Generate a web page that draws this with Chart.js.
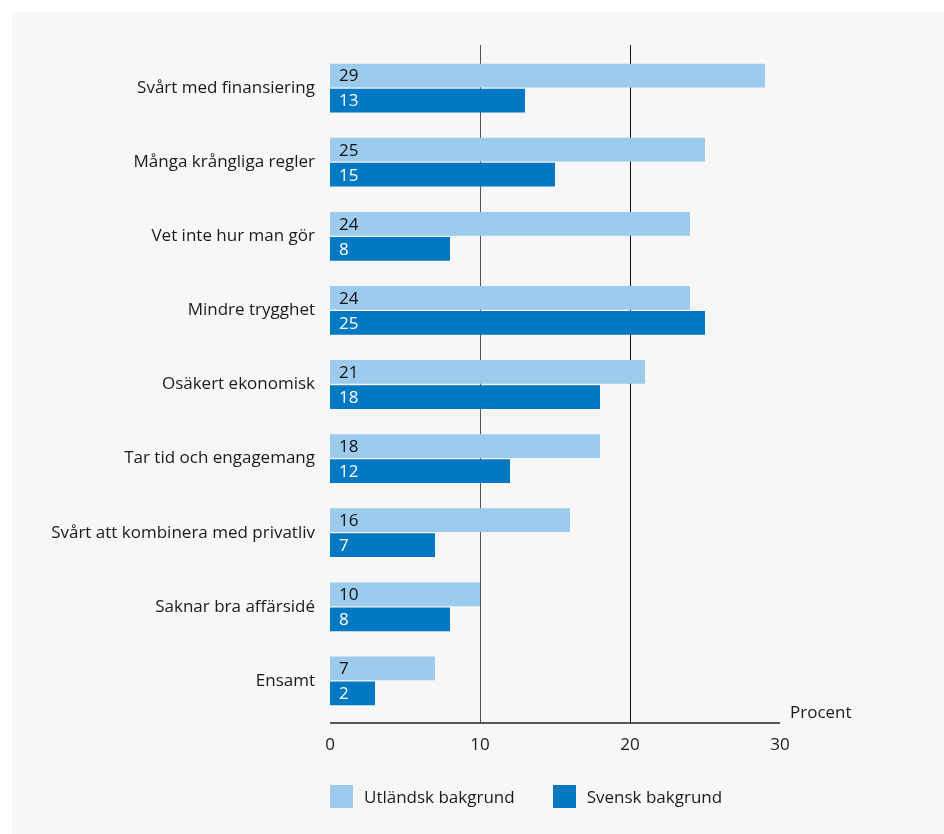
<!DOCTYPE html>
<html lang="sv">
<head>
<meta charset="utf-8">
<script src="https://cdn.jsdelivr.net/npm/chart.js@4"></script>
<style>
  html, body { margin: 0; padding: 0; background: #fff; }
  #panel { position: absolute; left: 12px; top: 12px; width: 932px; height: 822px; background: #f7f7f7; }
  #wrap { position: absolute; left: 0; top: 0; width: 944px; height: 834px; }
  #legend { position: absolute; left: 330px; top: 785px; font: 17px "Open Sans", sans-serif; color: #1a1a1a; display: flex; }
  .item { display: flex; align-items: center; margin-right: 38px; }
  .sw { width: 23px; height: 23px; margin-right: 11px; }
</style>
</head>
<body>
<div id="panel"></div>
<div id="wrap"><canvas id="chart" width="944" height="834"></canvas></div>
<div id="legend">
  <div class="item"><span class="sw" style="background:#9dcbed"></span>Utländsk bakgrund</div>
  <div class="item"><span class="sw" style="background:#0079c2"></span>Svensk bakgrund</div>
</div>
<script>
const categories = [
  "Svårt med finansiering",
  "Många krångliga regler",
  "Vet inte hur man gör",
  "Mindre trygghet",
  "Osäkert ekonomisk",
  "Tar tid och engagemang",
  "Svårt att kombinera med privatliv",
  "Saknar bra affärsidé",
  "Ensamt"
];
// bar lengths
const utlandsk = [29, 25, 24, 24, 21, 18, 16, 10, 7];
const svensk = [13, 15, 8, 25, 18, 12, 7, 8, 3];
// numbers printed in the bars (the last dark bar is drawn at 3 but says 2)
const utlandskText = ["29", "25", "24", "24", "21", "18", "16", "10", "7"];
const svenskText = ["13", "15", "8", "25", "18", "12", "7", "8", "2"];
const xTicks = [0, 10, 20, 30];

const FONT = "'Open Sans', sans-serif";
const barTexts = [utlandskText, svenskText];

// bar values drawn inside each bar at its left end
const barLabels = {
  id: "barLabels",
  afterDatasetsDraw(chart) {
    const ctx = chart.ctx;
    ctx.save();
    ctx.font = "17px " + FONT;
    ctx.textBaseline = "middle";
    chart.data.datasets.forEach((ds, i) => {
      const meta = chart.getDatasetMeta(i);
      meta.data.forEach((bar, j) => {
        ctx.fillStyle = i === 0 ? "#111" : "#fff";
        ctx.fillText(barTexts[i][j], bar.base + 9, bar.y + 1);
      });
    });
    ctx.restore();
  }
};

// vertical lines at 10 and 20, the axis line and the unit text
const axisLines = {
  id: "axisLines",
  beforeDatasetsDraw(chart) {
    const ctx = chart.ctx;
    const x = chart.scales.x;
    const top = 45, bottom = 723;
    ctx.save();
    [10, 20].forEach((v, i) => {
      const px = Math.round(x.getPixelForValue(v)) + 0.5;
      ctx.strokeStyle = i === 0 ? "#555" : "#111";
      ctx.lineWidth = 1;
      ctx.beginPath();
      ctx.moveTo(px, top);
      ctx.lineTo(px, bottom);
      ctx.stroke();
    });
    ctx.strokeStyle = "#222";
    ctx.lineWidth = 1.5;
    ctx.beginPath();
    ctx.moveTo(x.getPixelForValue(0), bottom);
    ctx.lineTo(x.getPixelForValue(30), bottom);
    ctx.stroke();
    ctx.fillStyle = "#1a1a1a";
    ctx.font = "17px " + FONT;
    ctx.textBaseline = "middle";
    ctx.fillText("Procent", x.getPixelForValue(30) + 10, 713);
    xTicks.forEach(v => {
      ctx.textAlign = "center";
      ctx.fillText(String(v), x.getPixelForValue(v), 745);
    });
    ctx.restore();
  }
};

new Chart(document.getElementById("chart"), {
  type: "bar",
  data: {
    labels: categories,
    datasets: [
      { label: "Utländsk bakgrund", data: utlandsk, backgroundColor: "#9dcbed" },
      { label: "Svensk bakgrund", data: svensk, backgroundColor: "#0079c2" }
    ]
  },
  options: {
    indexAxis: "y",
    responsive: false,
    animation: false,
    layout: { padding: { top: 51, right: 164, bottom: 108, left: 0 } },
    categoryPercentage: 0.675,
    barPercentage: 0.95,
    plugins: {
      legend: { display: false },
      tooltip: { enabled: false }
    },
    scales: {
      x: {
        min: 0,
        max: 30,
        ticks: { display: false, stepSize: 10 },
        grid: { display: false },
        border: { display: false }
      },
      y: {
        grid: { display: false },
        border: { display: false },
        afterFit(scale) { scale.width = 330; },
        ticks: {
          padding: 7,
          color: "#1a1a1a",
          font: { family: FONT, size: 17 }
        }
      }
    }
  },
  plugins: [axisLines, barLabels]
});
</script>
</body>
</html>
